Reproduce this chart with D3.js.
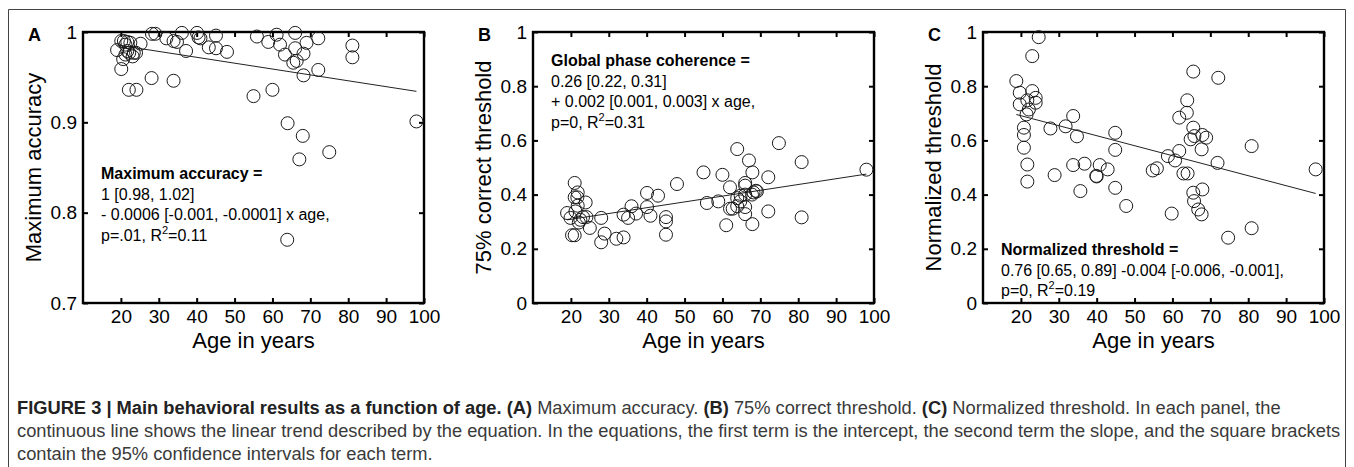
<!DOCTYPE html>
<html>
<head>
<meta charset="utf-8">
<script src="https://cdn.jsdelivr.net/npm/d3@7"></script>
<style>
    body { margin: 0; background: #fff; }
    svg { display: block; font-family: 'Liberation Sans', Arial, sans-serif; }
</style>
</head>
<body>
<div class="content"></div>
<script>
// values: [age, value]
const ageTicks = [20, 30, 40, 50, 60, 70, 80, 90, 100];
const accuracyTicks = [0.7, 0.8, 0.9, 1];
const thresholdTicks = [0, 0.2, 0.4, 0.6, 0.8, 1];

const accuracyPoints = [
    [20.1, 0.990], [20.8, 0.990], [21.7, 0.989], [22.5, 0.988], [21.2, 0.986], [25.2, 0.987],
    [19.0, 0.980], [21.7, 0.979], [23.4, 0.977], [22.2, 0.977], [24.0, 0.977], [23.1, 0.973],
    [21.2, 0.975], [20.6, 0.970], [20.1, 0.959], [22.1, 0.936], [24.1, 0.936], [28.2, 0.998],
    [29.1, 0.998], [32.0, 0.993], [33.9, 0.990], [34.8, 0.989], [36.1, 0.999], [37.2, 0.979],
    [40.1, 0.999], [40.5, 0.994], [41.0, 0.993], [43.2, 0.983], [45.1, 0.996], [45.1, 0.982],
    [48.0, 0.978], [28.1, 0.949], [33.9, 0.946], [55.9, 0.995], [58.9, 0.989], [61.1, 0.997],
    [62.0, 0.986], [63.3, 0.975], [66.0, 0.999], [66.0, 0.982], [66.4, 0.968], [65.5, 0.966],
    [68.2, 0.976], [69.0, 0.988], [72.1, 0.993], [72.1, 0.958], [68.2, 0.952], [81.1, 0.985],
    [81.1, 0.972], [55.0, 0.929], [60.0, 0.936], [64.0, 0.899], [68.0, 0.885], [75.0, 0.867],
    [67.1, 0.859], [98.0, 0.901], [63.9, 0.770]
];

const thresholdPoints = [
    [21.0, 0.443], [21.8, 0.408], [21.0, 0.390], [21.7, 0.390], [23.9, 0.371], [21.8, 0.359],
    [19.0, 0.332], [19.9, 0.314], [21.2, 0.338], [22.5, 0.307], [23.2, 0.317], [24.1, 0.317],
    [22.1, 0.297], [25.0, 0.277], [20.3, 0.250], [21.0, 0.250], [28.0, 0.314], [28.9, 0.256],
    [28.0, 0.224], [32.0, 0.237], [33.9, 0.242], [33.9, 0.326], [35.1, 0.314], [36.0, 0.357],
    [37.2, 0.330], [40.1, 0.406], [40.1, 0.354], [41.0, 0.322], [43.0, 0.396], [45.1, 0.317],
    [45.1, 0.301], [45.1, 0.252], [48.0, 0.439], [55.0, 0.482], [55.9, 0.369], [58.9, 0.375],
    [60.0, 0.473], [61.0, 0.287], [62.0, 0.427], [62.0, 0.348], [62.7, 0.348], [63.9, 0.568],
    [63.9, 0.387], [64.8, 0.396], [66.0, 0.443], [66.0, 0.433], [66.0, 0.400], [66.0, 0.354],
    [66.0, 0.328], [67.0, 0.526], [67.9, 0.482], [67.9, 0.291], [68.2, 0.408], [68.8, 0.414],
    [72.1, 0.464], [72.1, 0.338], [74.9, 0.590], [80.9, 0.520], [80.9, 0.316], [98.0, 0.492],
    [63.9, 0.357], [64.7, 0.375], [67.8, 0.400], [69.1, 0.412]
];

const normalizedPoints = [
    [24.7, 0.981], [23.0, 0.911], [18.8, 0.819], [19.7, 0.776], [23.0, 0.782], [19.7, 0.733],
    [21.7, 0.748], [23.9, 0.757], [23.9, 0.739], [22.1, 0.714], [21.5, 0.696], [20.8, 0.647],
    [20.8, 0.620], [20.8, 0.573], [21.7, 0.511], [21.7, 0.448], [27.8, 0.644], [28.9, 0.472],
    [31.8, 0.652], [33.8, 0.690], [34.8, 0.615], [33.8, 0.509], [35.7, 0.413], [36.8, 0.514],
    [39.9, 0.469], [40.0, 0.467], [40.8, 0.509], [42.9, 0.493], [44.9, 0.628], [44.9, 0.565],
    [44.9, 0.425], [47.8, 0.358], [54.8, 0.489], [55.9, 0.497], [58.8, 0.542], [59.8, 0.330],
    [60.7, 0.526], [61.8, 0.684], [61.8, 0.561], [62.9, 0.478], [64.0, 0.478], [63.9, 0.748],
    [63.8, 0.702], [65.5, 0.854], [65.5, 0.647], [64.8, 0.604], [65.8, 0.616], [67.9, 0.620],
    [68.9, 0.610], [67.7, 0.567], [65.5, 0.407], [67.9, 0.419], [65.7, 0.376], [66.8, 0.345],
    [67.7, 0.327], [72.1, 0.831], [71.9, 0.517], [74.7, 0.241], [80.9, 0.579], [80.9, 0.276],
    [97.8, 0.493]
];

// trend lines: [intercept, slope]
const accuracyFit = [0.998, -0.00065];
const thresholdFit = [0.266, 0.00214];
const normalizedFit = [0.765, -0.00369];

const accuracyNote = ['Maximum accuracy =', '1 [0.98, 1.02]', '- 0.0006 [-0.001, -0.0001] x age,', 'p=.01, R', '=0.11'];
const thresholdNote = ['Global phase coherence =', '0.26 [0.22, 0.31]', '+ 0.002 [0.001, 0.003] x age,', 'p=0, R', '=0.31'];
const normalizedNote = ['Normalized threshold =', '0.76 [0.65, 0.89] -0.004 [-0.006, -0.001],', 'p=0, R', '=0.19'];

const captionLines = [
    [['FIGURE 3 | Main behavioral results as a function of age. (A)', true], [' Maximum accuracy. ', false], ['(B)', true],
     [' 75% correct threshold. ', false], ['(C)', true], [' Normalized threshold. In each panel, the', false]],
    [['continuous line shows the linear trend described by the equation. In the equations, the first term is the intercept, the second term the slope, and the square brackets', false]],
    [['contain the 95% confidence intervals for each term.', false]]
];

(function () {
    const W = 1354, H = 467;
    const top = 32, bottom = 303, left = 83, right = 424;

    const svg = d3.select('.content').append('svg')
        .attr('width', W)
        .attr('height', H);

    svg.append('rect').attr('width', W).attr('height', H).attr('fill', '#fff');

    // figure frame (open at the bottom)
    svg.append('path')
        .attr('d', 'M8.5,' + H + 'V9.5H1345.5V' + H)
        .attr('fill', 'none')
        .attr('stroke', '#444')
        .attr('stroke-width', 1);

    const panels = [
        {letter: 'A', dx: 0, points: accuracyPoints, fit: accuracyFit, yTicks: accuracyTicks,
            domain: [0.7, 1], ylabel: 'Maximum accuracy', note: accuracyNote, noteX: 101, noteY: 179},
        {letter: 'B', dx: 450, points: thresholdPoints, fit: thresholdFit, yTicks: thresholdTicks,
            domain: [0, 1], ylabel: '75% correct threshold', note: thresholdNote, noteX: 101, noteY: 66},
        {letter: 'C', dx: 900, points: normalizedPoints, fit: normalizedFit, yTicks: thresholdTicks,
            domain: [0, 1], ylabel: 'Normalized threshold', note: normalizedNote, noteX: 101, noteY: 255}
    ];

    panels.forEach(function (p) {
        const g = svg.append('g').attr('transform', 'translate(' + p.dx + ',0)');

        const x = d3.scaleLinear().domain([10, 100]).range([left, right]);
        const y = d3.scaleLinear().domain(p.domain).range([bottom, top]);

        const fmt = function (d) { return String(d); };

        // axes on all four sides, ticks pointing inward
        const gx = g.append('g')
            .attr('transform', 'translate(0,' + bottom + ')')
            .call(d3.axisBottom(x).tickValues(ageTicks).tickSizeInner(-5).tickSizeOuter(0).tickPadding(7).tickFormat(fmt));
        const gxt = g.append('g')
            .attr('transform', 'translate(0,' + top + ')')
            .call(d3.axisTop(x).tickValues(ageTicks).tickSizeInner(-5).tickSizeOuter(0).tickFormat(''));
        const gy = g.append('g')
            .attr('transform', 'translate(' + left + ',0)')
            .call(d3.axisLeft(y).tickValues(p.yTicks).tickSizeInner(-5).tickSizeOuter(0).tickPadding(6).tickFormat(fmt));
        const gyr = g.append('g')
            .attr('transform', 'translate(' + right + ',0)')
            .call(d3.axisRight(y).tickValues(p.yTicks).tickSizeInner(-5).tickSizeOuter(0).tickFormat(''));

        [gx, gxt, gy, gyr].forEach(function (a) {
            a.select('.domain').remove();
            a.selectAll('.tick line').attr('stroke', '#000').attr('stroke-width', 2);
            a.selectAll('.tick text')
                .attr('fill', '#000')
                .style('font-family', "'Liberation Sans', Arial, sans-serif")
                .style('font-size', '19px');
        });

        // plot box
        g.append('rect')
            .attr('x', left).attr('y', top)
            .attr('width', right - left).attr('height', bottom - top)
            .attr('fill', 'none')
            .attr('stroke', '#000')
            .attr('stroke-width', 2.4);

        // trend line over the age range of the data
        const ext = d3.extent(p.points, function (d) { return d[0]; });
        const line = d3.line()
            .x(function (d) { return x(d); })
            .y(function (d) { return y(p.fit[0] + p.fit[1] * d); });
        g.append('path')
            .datum(ext)
            .attr('d', line)
            .attr('fill', 'none')
            .attr('stroke', '#222')
            .attr('stroke-width', 1);

        // subjects
        g.append('g').selectAll('circle')
            .data(p.points)
            .enter()
            .append('circle')
            .attr('cx', function (d) { return x(d[0]); })
            .attr('cy', function (d) { return y(d[1]); })
            .attr('r', 6.5)
            .attr('fill', 'none')
            .attr('stroke', '#1a1a1a')
            .attr('stroke-width', 1);

        // axis titles
        g.append('text')
            .attr('x', (left + right) / 2)
            .attr('y', 348)
            .attr('text-anchor', 'middle')
            .style('font-size', '22px')
            .text('Age in years');
        g.append('text')
            .attr('transform', 'translate(41,' + (top + bottom) / 2 + ') rotate(-90)')
            .attr('text-anchor', 'middle')
            .style('font-size', '22px')
            .text(p.ylabel);

        // panel letter
        g.append('text')
            .attr('x', 28).attr('y', 41)
            .style('font-size', '18px')
            .style('font-weight', 'bold')
            .text(p.letter);

        // equation
        const n = p.note.length;
        const note = g.append('g').style('font-size', '16px');
        note.append('text')
            .attr('x', p.noteX).attr('y', p.noteY)
            .style('font-weight', 'bold')
            .text(p.note[0]);
        for (let i = 1; i < n - 2; i++) {
            note.append('text')
                .attr('x', p.noteX).attr('y', p.noteY + i * 20.5)
                .text(p.note[i]);
        }
        const last = note.append('text')
            .attr('x', p.noteX).attr('y', p.noteY + (n - 2) * 20.5);
        last.append('tspan').text(p.note[n - 2]);
        last.append('tspan').attr('dy', -7).style('font-size', '11px').text('2');
        last.append('tspan').attr('dy', 7).text(p.note[n - 1]);
    });

    // caption
    const cap = svg.append('g')
        .style('font-family', "'Liberation Sans Narrow', 'Liberation Sans', sans-serif")
        .style('font-size', '18.3px')
        .attr('fill', '#333');
    captionLines.forEach(function (parts, i) {
        const t = cap.append('text').attr('x', 17).attr('y', 414 + i * 23);
        parts.forEach(function (part) {
            t.append('tspan')
                .style('font-weight', part[1] ? 'bold' : 'normal')
                .attr('fill', part[1] ? '#222' : '#3a3a3a')
                .text(part[0]);
        });
    });
})();
</script>
</body>
</html>
